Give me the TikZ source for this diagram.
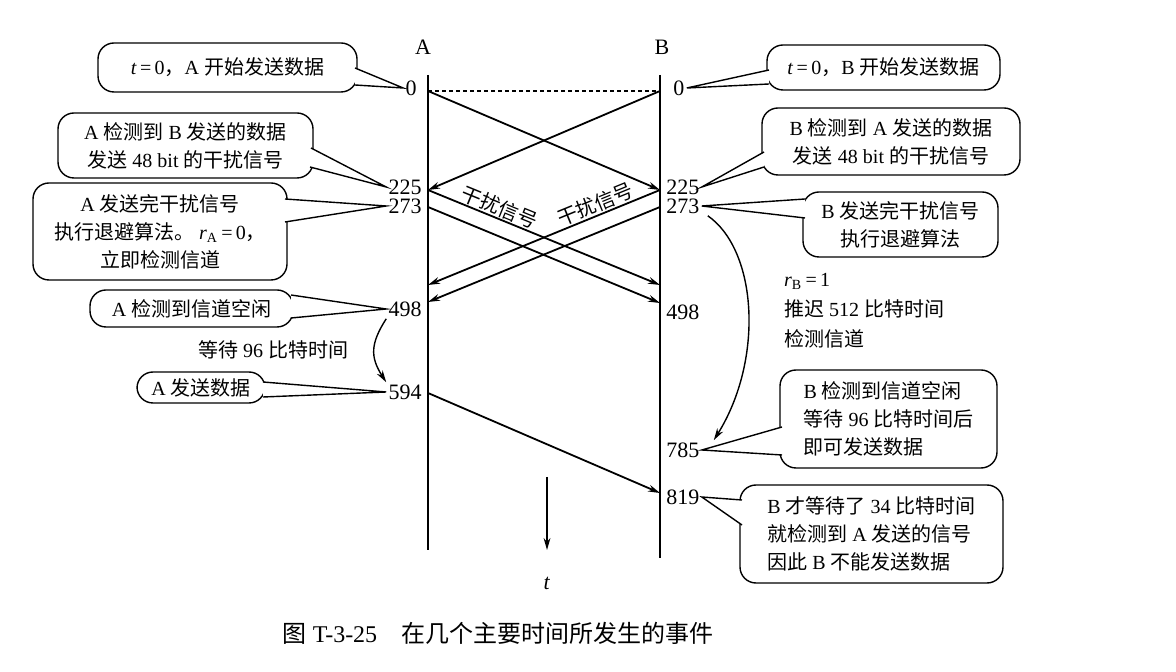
\documentclass[tikz,border=0pt]{standalone}
\usepackage{fontspec}
\setmainfont{Liberation Serif}
\newfontfamily\cjk{Noto Sans CJK SC}
\newcommand{\zh}[1]{{\cjk #1}}
\usetikzlibrary{arrows.meta}

\begin{document}
\begin{tikzpicture}[
    x=0.5pt, y=-0.5pt,
    bubble/.style={draw, rounded corners=8pt, line width=0.7pt, fill=white, align=center, inner sep=2pt, font=\fontsize{10}{14}\selectfont},
    ptr/.style={fill=white, line width=0.7pt},
    stamp/.style={inner sep=1pt, font=\fontsize{11}{12}\selectfont},
    lane/.style={line width=0.6pt},
    sig/.style={-{Stealth[length=6pt, width=3.4pt]}, line width=0.9pt},
    jam/.style={sloped, above, inner sep=0.5pt, font=\fontsize{10}{12}\selectfont},
    arr/.style={-{Stealth[length=6pt, width=3.4pt]}, line width=0.7pt}
  ]
  \useasboundingbox (0,0) rectangle (1176,672);

  \node[font=\fontsize{11}{12}\selectfont] (labA) at (423,47) {A};
  \node[font=\fontsize{11}{12}\selectfont] (labB) at (662,47) {B};
  \coordinate (atop) at (428,75);
  \coordinate (abot) at (428,550);
  \coordinate (btop) at (660,75);
  \coordinate (bbot) at (660,558);
  \draw[lane] (atop) -- (abot);
  \draw[lane] (btop) -- (bbot);

  \coordinate (a0)   at (428,91);
  \coordinate (a225) at (428,190);
  \coordinate (a273) at (428,207);
  \coordinate (a450) at (428,285);
  \coordinate (a498) at (428,302);
  \coordinate (a594) at (428,393);
  \coordinate (b0)   at (660,91);
  \coordinate (b225) at (660,190);
  \coordinate (b273) at (660,207);
  \coordinate (b450) at (660,285);
  \coordinate (b498) at (660,303);
  \coordinate (b819) at (660,493);

  \node[stamp, anchor=east] (ta0)   at (419,88)  {0};
  \node[stamp, anchor=east] (ta225) at (424,187) {225};
  \node[stamp, anchor=east] (ta273) at (424,206) {273};
  \node[stamp, anchor=east] (ta498) at (424,309) {498};
  \node[stamp, anchor=east] (ta594) at (424,392) {594};
  \node[stamp, anchor=west] (tb0)   at (671,88)  {0};
  \node[stamp, anchor=west] (tb225) at (664,187) {225};
  \node[stamp, anchor=west] (tb273) at (664,206) {273};
  \node[stamp, anchor=west] (tb498) at (664,312) {498};
  \node[stamp, anchor=west] (tb785) at (664,450) {785};
  \node[stamp, anchor=west] (tb819) at (664,497) {819};

  \draw[line width=0.6pt, dash pattern=on 2pt off 1.5pt] (a0) -- (b0);
  \draw[sig] (a0) -- (b225);
  \draw[sig] (b0) -- (a225);
  \draw[sig] (a225) -- node[jam, pos=0.29] (jamAB) {\zh{干扰信号}} (b450);
  \draw[sig] (a273) -- (b498);
  \draw[sig] (b225) -- node[jam, pos=0.26] (jamBA) {\zh{干扰信号}} (a450);
  \draw[sig] (b273) -- (a498);
  \draw[sig] (a594) -- (b819);

  \node[bubble, minimum width=129.5pt, minimum height=24.5pt] (startA) at (227.5,67.5)
    {\textit{t}\,=\,0\zh{，}A \zh{开始发送数据}};
  \node[bubble, minimum width=127.5pt, minimum height=32.5pt] (detA) at (185.5,145.5)
    {A \zh{检测到} B \zh{发送的数据}\\\zh{发送} 48 bit \zh{的干扰信号}};
  \node[bubble, minimum width=127pt, minimum height=48.5pt] (jamA) at (160,231.5)
    {A \zh{发送完干扰信号}\\\zh{执行退避算法。}\ \textit{r}\textsubscript{A}\,=\,0\zh{，}\\\zh{立即检测信道}};
  \node[bubble, minimum width=101.5pt, minimum height=18.5pt] (idleA) at (191.5,308.5)
    {A \zh{检测到信道空闲}};
  \node[bubble, minimum width=64pt, minimum height=15.5pt] (sendA) at (201,387.5)
    {A \zh{发送数据}};
  \node[bubble, minimum width=116.5pt, minimum height=22.5pt] (startB) at (883.5,67.5)
    {\textit{t}\,=\,0\zh{，}B \zh{开始发送数据}};
  \node[bubble, minimum width=129pt, minimum height=33.5pt] (detB) at (891,141.5)
    {B \zh{检测到} A \zh{发送的数据}\\\zh{发送} 48 bit \zh{的干扰信号}};
  \node[bubble, minimum width=97.5pt, minimum height=32.5pt] (jamB) at (900.5,224.5)
    {B \zh{发送完干扰信号}\\\zh{执行退避算法}};
  \node[bubble, align=left, minimum width=108.5pt, minimum height=49pt] (idleB) at (888.5,419)
    {B \zh{检测到信道空闲}\\\zh{等待} 96 \zh{比特时间后}\\\zh{即可发送数据}};
  \node[bubble, align=left, minimum width=131.5pt, minimum height=49pt] (lateB) at (871.5,534)
    {B \zh{才等待了} 34 \zh{比特时间}\\\zh{就检测到} A \zh{发送的信号}\\\zh{因此} B \zh{不能发送数据}};

  \filldraw[ptr] (355,68) -- (ta0.west) -- (355,85);
  \filldraw[ptr] (311,148) -- (ta225.west) -- (310,167);
  \filldraw[ptr] (285,199) -- (ta273.west) -- (285,222);
  \filldraw[ptr] (291,295) -- (ta498.west) -- (291,318);
  \filldraw[ptr] (263,382) -- (ta594.west) -- (263,397);
  \filldraw[ptr] (769,70) -- (tb0.east) -- (769,84);
  \filldraw[ptr] (764,152) -- (tb225.east) -- (764,167);
  \filldraw[ptr] (805,199) -- (tb273.east) -- (805,218);
  \filldraw[ptr] (782,427) -- (tb785.east) -- (782,455);
  \filldraw[ptr] (742,500) -- (tb819.east) -- (742,525);

  \draw[arr] (ta498.south west) .. controls +(-16,25) and +(-16,-25) .. (ta594.north west);
  \node[font=\fontsize{10}{12}\selectfont] (waitA) at (273,350) {\zh{等待} 96 \zh{比特时间}};
  \draw[arr] ([xshift=3pt]tb273.south east) .. controls +(50,35) and +(50,-80) .. ([xshift=6pt]tb785.north east);
  \node[anchor=west, align=left, font=\fontsize{10}{15}\selectfont] (delayB) at (777,311)
    {\textit{r}\textsubscript{B}\,=\,1\\\zh{推迟} 512 \zh{比特时间}\\\zh{检测信道}};

  \coordinate (tstart) at (547,477);
  \coordinate (tend) at (547,550);
  \draw[arr] (tstart) -- (tend);
  \node[font=\fontsize{11}{12}\selectfont] (tlab) at (547,583) {\textit{t}};

  \node[font=\fontsize{12}{14}\selectfont] (caption) at (498,633)
    {\zh{图} T-3-25\quad\zh{在几个主要时间所发生的事件}};
\end{tikzpicture}
\end{document}
